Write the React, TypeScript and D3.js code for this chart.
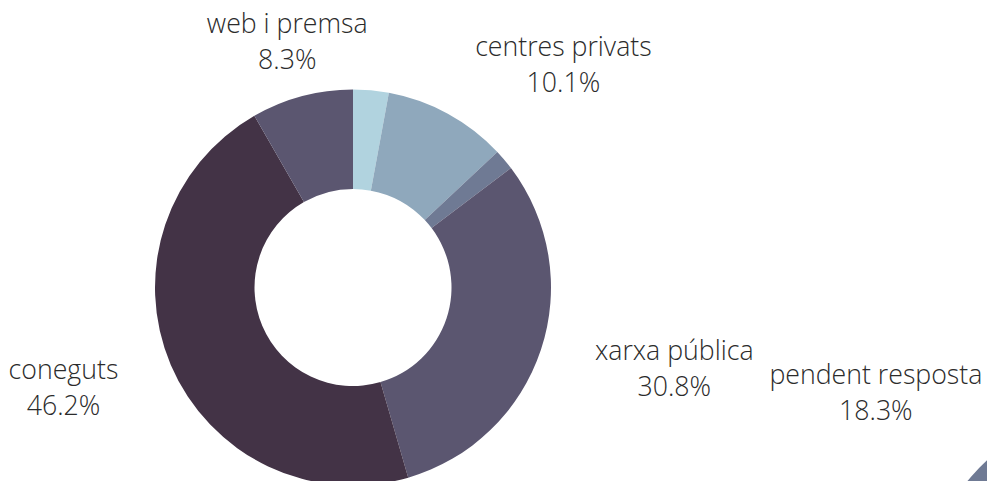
import * as d3 from "d3";
import { useEffect, useRef } from "react";

// main donut, clockwise from 12 o'clock
const categories = ["", "centres privats", "", "xarxa pública", "coneguts", "web i premsa"];
const values = [2.9, 10.1, 1.7, 30.8, 46.2, 8.3];
const colors = ["#b1d3df", "#8fa8bc", "#6f7a94", "#5b5670", "#433346", "#5b5670"];

// second donut, mostly outside the frame
const categories2 = ["", "pendent resposta"];
const values2 = [81.7, 18.3];
const colors2 = ["#5b5670", "#6f7a94"];

const W = 987;
const H = 481;

export default function App() {
  const ref = useRef<SVGSVGElement | null>(null);

  useEffect(() => {
    const svg = d3.select(ref.current);
    svg.selectAll("*").remove();

    const outer = 198;
    const inner = 98.5;
    const labelR = 255;

    const drawDonut = (
      cx: number,
      cy: number,
      names: string[],
      vals: number[],
      cols: string[]
    ) => {
      const pie = d3
        .pie<number>()
        .sort(null)
        .value((d) => d);
      const arcs = pie(vals);
      const arc = d3
        .arc<d3.PieArcDatum<number>>()
        .innerRadius(inner)
        .outerRadius(outer);

      const g = svg.append("g").attr("transform", `translate(${cx},${cy})`);
      g.selectAll("path")
        .data(arcs)
        .enter()
        .append("path")
        .attr("d", arc)
        .attr("fill", (d, i) => cols[i]);

      arcs.forEach((a, i) => {
        if (!names[i]) return;
        const mid = (a.startAngle + a.endAngle) / 2;
        const s = Math.sin(mid);
        const px = s * labelR;
        const py = -Math.cos(mid) * labelR;
        const t = g
          .append("text")
          .attr("font-family", "'Open Sans', sans-serif")
          .attr("font-weight", 300)
          .attr("font-size", 26.7)
          .attr("fill", "#2b2b2b")
          .attr("text-anchor", "middle");
        const l1 = t.append("tspan").attr("y", py - 8).text(names[i]);
        const pct = (vals[i] / d3.sum(vals)) * 100;
        const l2 = t.append("tspan").attr("y", py + 28).text(pct.toFixed(1) + "%");
        const w = Math.max(
          (l1.node() as SVGTextContentElement).getComputedTextLength(),
          (l2.node() as SVGTextContentElement).getComputedTextLength()
        );
        let x = px;
        if (Math.abs(s) > 0.35) x = s > 0 ? px + w / 2 : px - w / 2;
        l1.attr("x", x);
        l2.attr("x", x);
      });
    };

    drawDonut(353, 287.5, categories, values, colors);
    drawDonut(1121, 606, categories2, values2, colors2);
  }, []);

  return (
    <svg
      ref={ref}
      width={W}
      height={H}
      style={{ position: "absolute", left: 0, top: 0, background: "#fff" }}
    />
  );
}
